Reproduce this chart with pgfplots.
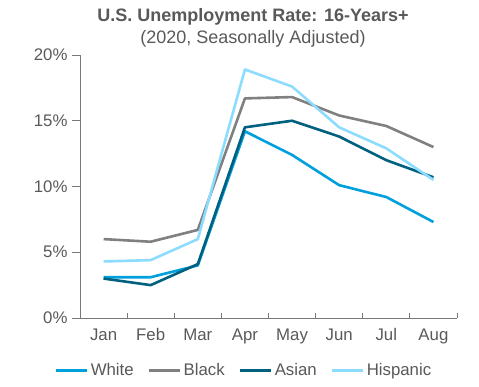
\documentclass[border=0pt]{standalone}
\usepackage{pgfplots}
\pgfplotsset{compat=1.18}
\usepackage{fontspec}
\setmainfont{Liberation Sans}
\definecolor{cWhite}{RGB}{0,160,220}
\definecolor{cBlack}{RGB}{128,128,128}
\definecolor{cAsian}{RGB}{0,96,128}
\definecolor{cHisp}{RGB}{140,220,255}
\definecolor{txt}{RGB}{89,89,89}
\definecolor{axl}{RGB}{120,120,120}
\begin{document}
\begin{tikzpicture}
\useasboundingbox (-80bp,-69bp) rectangle (399bp,318bp);
\begin{axis}[
  at={(0,0)}, anchor=south west,
  scale only axis, width=377bp, height=263bp,
  xmin=-0.5, xmax=7.5, ymin=0, ymax=20,
  axis x line*=bottom, axis y line*=left,
  axis line style={axl, line width=0.9bp},
  xtick={0,...,7},
  xticklabels={Jan,Feb,Mar,Apr,May,Jun,Jul,Aug},
  minor xtick={-0.5,0.5,...,7.5},
  major x tick style={draw=none},
  minor x tick style={axl, line width=0.9bp},
  minor tick length=5bp,
  ytick={0,5,10,15,20},
  yticklabel={\pgfmathprintnumber{\tick}\%},
  y tick style={axl, line width=0.9bp},
  ytick align=outside,
  major tick length=8bp,
  xtick align=inside,
  tick label style={font=\fontsize{16.8bp}{19bp}\selectfont, text=txt},
  /pgf/number format/assume math mode=true,
  xticklabel style={yshift=-7bp},
  yticklabel style={xshift=-1bp},
  legend columns=4,
  legend style={draw=none, at={(0.435,-52bp)}, anchor=center, font=\fontsize{16.8bp}{19bp}\selectfont, text=txt,
    /tikz/every even column/.append style={column sep=12bp}, inner sep=0pt},
  legend image code/.code={\draw[#1, line width=3bp] (0bp,0bp) -- (31bp,0bp);},
  every axis plot/.append style={line width=2.6bp, line join=round},
  clip=false,
]
\addplot[cWhite] coordinates {(0,3.1)(1,3.1)(2,4.0)(3,14.2)(4,12.4)(5,10.1)(6,9.2)(7,7.3)};
\addlegendentry{White}
\addplot[cBlack] coordinates {(0,6.0)(1,5.8)(2,6.7)(3,16.7)(4,16.8)(5,15.4)(6,14.6)(7,13.0)};
\addlegendentry{Black}
\addplot[cAsian] coordinates {(0,3.0)(1,2.5)(2,4.1)(3,14.5)(4,15.0)(5,13.8)(6,12.0)(7,10.7)};
\addlegendentry{Asian}
\addplot[cHisp] coordinates {(0,4.3)(1,4.4)(2,6.0)(3,18.9)(4,17.6)(5,14.5)(6,12.9)(7,10.5)};
\addlegendentry{Hispanic}
\end{axis}
\node[text=txt, font=\bfseries\fontsize{18bp}{20bp}\selectfont] at (173bp,301bp) {U.S. Unemployment Rate: 16-Years+};
\node[text=txt, font=\fontsize{18bp}{20bp}\selectfont] at (173bp,279bp) {(2020, Seasonally Adjusted)};
\end{tikzpicture}
\end{document}
